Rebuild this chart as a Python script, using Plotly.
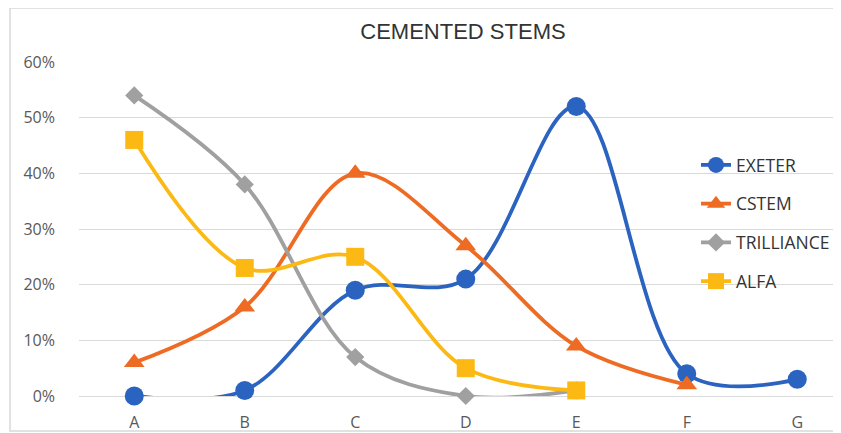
import plotly.graph_objects as go

categories = ["A", "B", "C", "D", "E", "F", "G"]
exeter = [0.00, 0.01, 0.19, 0.21, 0.52, 0.04, 0.03]
cstem = [0.06, 0.16, 0.40, 0.27, 0.09, 0.02]
trilliance = [0.54, 0.38, 0.07, 0.00, 0.01]
alfa = [0.46, 0.23, 0.25, 0.05, 0.01]
y_ticks = [0, 0.1, 0.2, 0.3, 0.4, 0.5, 0.6]

series = [
    ("EXETER", exeter, "#2B63C0", "circle", 19),
    ("CSTEM", cstem, "#EE6B24", "triangle-up", 18),
    ("TRILLIANCE", trilliance, "#A0A0A0", "diamond", 14),
    ("ALFA", alfa, "#FDB913", "square", 18),
]

fig = go.Figure()
for i, (name, vals, color, sym, size) in enumerate(series):
    fig.add_trace(go.Scatter(
        x=categories[:len(vals)], y=vals, name=name, mode="lines+markers",
        line=dict(color=color, width=3.8, shape="spline", smoothing=1.0),
        marker=dict(color=color, symbol=sym, size=size),
        cliponaxis=False, legendgroup=name,
    ))

# page body has an 8px margin: work in figure coords = window coords - 8
OFF = 8
W, H = 841 - OFF, 433 - OFF
L, T = 79 - OFF, 62 - OFF
plot_bottom = 396 - OFF
B = H - plot_bottom
R = 0
pw = W - L - R
ph = H - T - B
cat_w = 110.5
xmax = -0.5 + pw / cat_w

fig.update_layout(
    width=W, height=H,
    margin=dict(l=L, r=R, t=T, b=B, autoexpand=False),
    paper_bgcolor="white", plot_bgcolor="white",
    title=dict(text="CEMENTED STEMS", x=(463 - OFF) / W, xref="container", xanchor="center",
               y=1 - (31 - OFF) / H, yref="container", yanchor="middle",
               font=dict(family="Liberation Sans", size=22, color="#333333")),
    xaxis=dict(type="category", categoryorder="array", categoryarray=categories,
               range=[-0.5, xmax], showgrid=False, showline=False, zeroline=False,
               tickfont=dict(family="Open Sans", size=16, color="#595959"),
               ticks="", ticklabelstandoff=15, automargin=False),
    yaxis=dict(range=[0, 0.6], tickvals=y_ticks, tickformat=".0%",
               showgrid=True, gridcolor="#D9D9D9", gridwidth=1,
               zeroline=True, zerolinecolor="#D9D9D9", zerolinewidth=1,
               showline=False, ticks="",
               tickfont=dict(family="Open Sans", size=16, color="#595959"),
               ticklabelstandoff=23, automargin=False),
    legend=dict(x=(688 - L) / pw, xanchor="left", y=(plot_bottom - 139) / ph, yanchor="top",
                traceorder="grouped", tracegroupgap=13, bgcolor="rgba(0,0,0,0)",
                itemsizing="trace",
                font=dict(family="Open Sans", size=17.5, color="#333333")),
    showlegend=True,
    shapes=[dict(type="rect", xref="paper", yref="paper",
                 x0=(10 - OFF - L) / pw, x1=1.02,
                 y0=(plot_bottom - (431 - OFF)) / ph, y1=(plot_bottom - 0) / ph,
                 line=dict(color="#D9D9D9", width=1.5), layer="below")],
)

fig.write_html("out.html")
